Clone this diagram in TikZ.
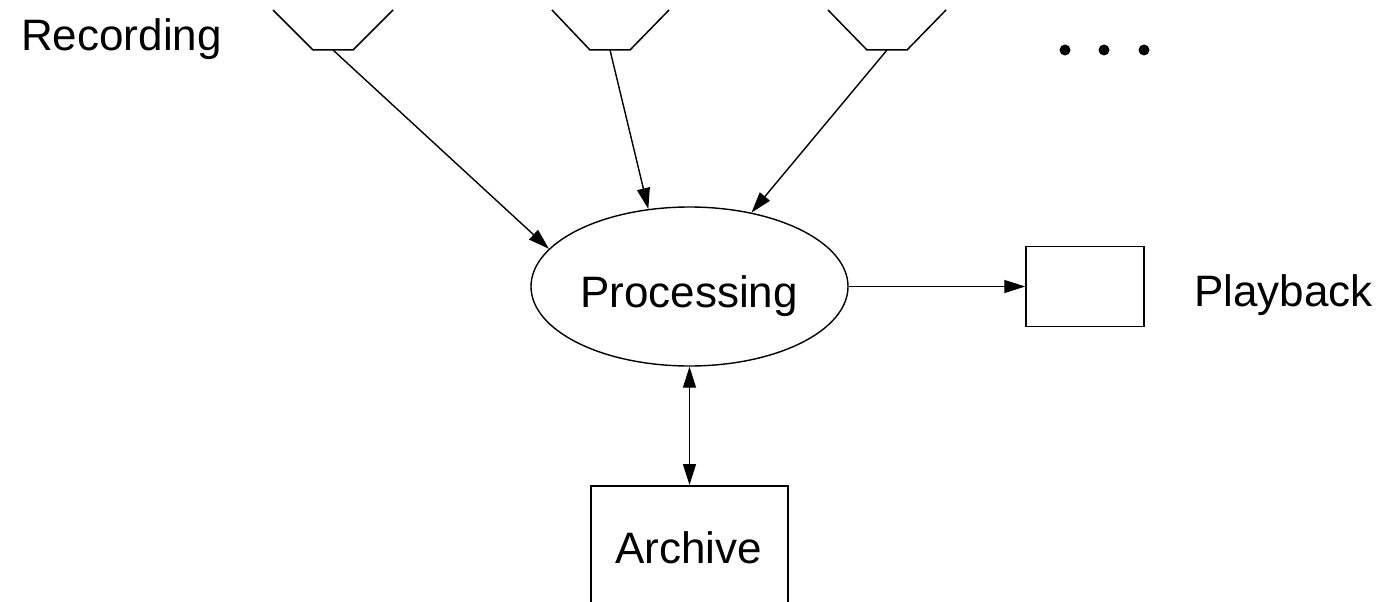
\documentclass[tikz,border=0pt]{standalone}
\usepackage{fontspec}
\setmainfont{Liberation Sans}
\usetikzlibrary{shapes.geometric,arrows.meta}
\begin{document}
\begin{tikzpicture}[x=1pt,y=-1pt,
  every node/.style={font=\fontsize{44}{50}\selectfont, inner sep=0pt},
  ln/.style={line width=1.5pt, line join=miter},
  conn/.style={line width=1.4pt, -{Triangle[length=21pt,width=13pt]}},
  dconn/.style={line width=1.4pt, {Triangle[length=21pt,width=13pt]}-{Triangle[length=21pt,width=13pt]}},
  box/.style={draw, line width=1.5pt, rectangle, inner sep=0pt},
  lab/.style={anchor=base west}]
\path[use as bounding box, clip] (0,0) rectangle (1381,602);
\fill[white] (0,0) rectangle (1381,602);

% microphones
\draw[ln] (273,10) -- (313,50) -- (353,50) -- (393,10);
\coordinate (m1) at (333,50);
\draw[ln] (552,10) -- (590,50) -- (630,50) -- (669,10);
\coordinate (m2) at (610,50);
\draw[ln] (828,10) -- (867,50) -- (907,50) -- (946,10);
\coordinate (m3) at (887,50);

% dots
\fill (1065,50) circle (5.5);
\fill (1104,50) circle (5.5);
\fill (1144,50) circle (5.5);

% nodes
\node[lab] (rec) at (21,51) {Recording};
\node[draw, ellipse, line width=1.4pt, minimum width=317pt, minimum height=159pt] (proc) at (689.5,286.5) {};
\node[anchor=base] (proctext) at (689,307) {Processing};
\node[box, minimum width=118pt, minimum height=80pt] (play) at (1085,286.5) {};
\node[lab] (playtext) at (1194,306) {Playback};
\node[box, anchor=north, minimum width=197pt, minimum height=130pt] (arch) at (689.5,485) {};
\node[anchor=base] (archtext) at (688.5,563) {Archive};

% connectors
\draw[conn] (m1) -- (proc.165);
\draw[conn] (m2) -- (proc.118);
\draw[conn] (m3) -- (proc.50.5);
\draw[conn] (proc.east) -- (play.west);
\draw[dconn] (proc.south) -- (arch.north);
\end{tikzpicture}
\end{document}
